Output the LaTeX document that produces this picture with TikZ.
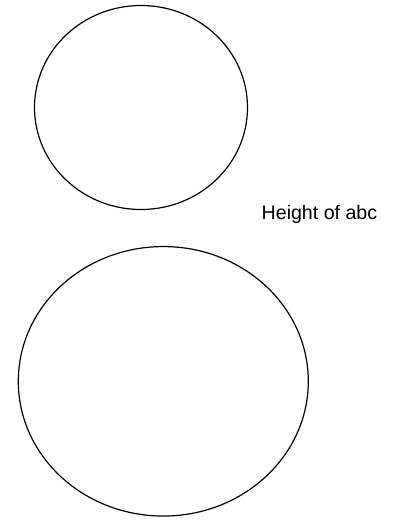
\documentclass[tikz,border=0pt]{standalone}
\usepackage{fontspec}
\setmainfont{Liberation Sans}
\usetikzlibrary{shapes.geometric}

\begin{document}
\begin{tikzpicture}[x=1pt, y=-1pt,
    blob/.style={draw, ellipse, line width=1.2pt, inner sep=0pt},
    note/.style={font=\fontsize{19.6}{22}\selectfont, anchor=base west, inner sep=0pt},
]
\useasboundingbox (0,0) rectangle (402,520);

\node[blob, minimum width=213pt, minimum height=204pt] (small) at (141,107.5) {};
\node[blob, minimum width=290pt, minimum height=269.5pt] (big) at (163.3,381.3) {};
\node[note] (height) at (261.5,219) {Height of abc};

\end{tikzpicture}
\end{document}
